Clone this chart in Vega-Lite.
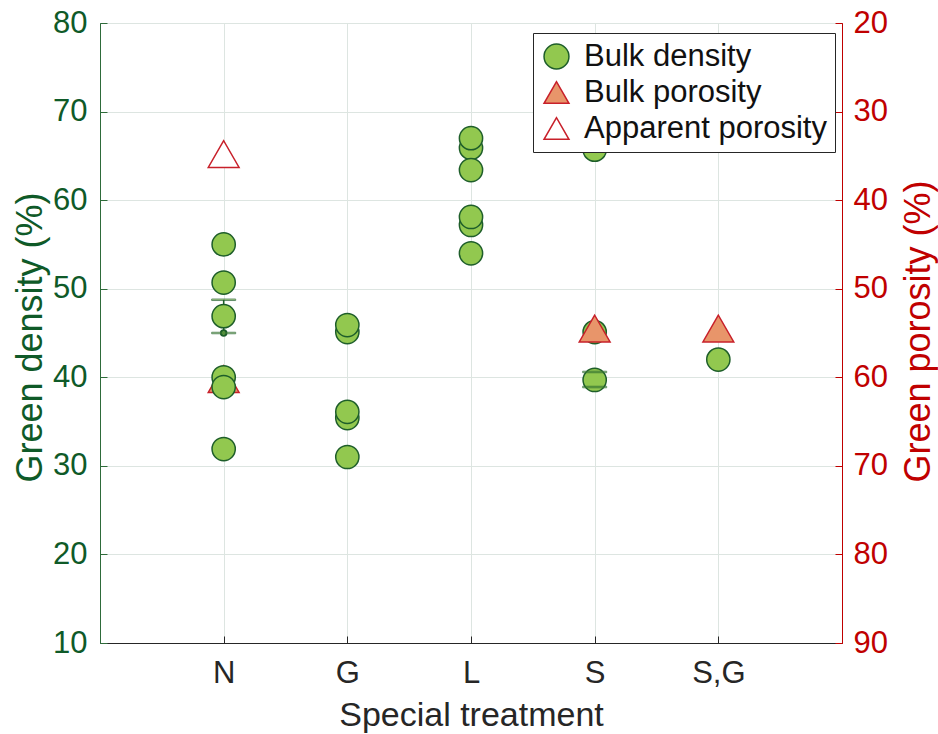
{
  "$schema": "https://vega.github.io/schema/vega-lite/v6.json",
  "autosize": {"type": "none"},
  "width": 742,
  "height": 620,
  "padding": {"left": 100, "top": 23, "right": 96, "bottom": 91},
  "background": "white",
  "config": {
    "font": "Liberation Sans",
    "view": {"stroke": "#262626", "strokeWidth": 1},
    "axis": {"gridColor": "#dde5e1", "gridWidth": 1, "labelFont": "Liberation Sans", "titleFont": "Liberation Sans", "titleFontWeight": "normal"},
    "legend": {
      "orient": "none", "legendX": 433, "legendY": 10, "title": null,
      "fillColor": "white", "strokeColor": "#262626", "padding": 8,
      "labelFont": "Liberation Sans", "labelFontSize": 31, "labelColor": "#111111", "labelLimit": 500,
      "symbolSize": 620, "symbolStrokeWidth": 1.5, "labelOffset": 12, "rowPadding": 4
    }
  },
  "data": {
    "values": [
      {"treatment": "N", "series": "Bulk density", "value": 55.0},
      {"treatment": "N", "series": "Bulk density", "value": 50.7},
      {"treatment": "N", "series": "Bulk density", "value": 46.9, "lo": 45.0, "hi": 48.75},
      {"treatment": "N", "series": "Bulk density", "value": 40.0},
      {"treatment": "N", "series": "Bulk density", "value": 38.9},
      {"treatment": "N", "series": "Bulk density", "value": 31.9},
      {"treatment": "G", "series": "Bulk density", "value": 45.1},
      {"treatment": "G", "series": "Bulk density", "value": 45.9},
      {"treatment": "G", "series": "Bulk density", "value": 35.4},
      {"treatment": "G", "series": "Bulk density", "value": 36.1},
      {"treatment": "G", "series": "Bulk density", "value": 31.0},
      {"treatment": "L", "series": "Bulk density", "value": 65.9},
      {"treatment": "L", "series": "Bulk density", "value": 67.0},
      {"treatment": "L", "series": "Bulk density", "value": 63.4},
      {"treatment": "L", "series": "Bulk density", "value": 57.2},
      {"treatment": "L", "series": "Bulk density", "value": 58.1},
      {"treatment": "L", "series": "Bulk density", "value": 54.0},
      {"treatment": "S", "series": "Bulk density", "value": 65.7},
      {"treatment": "S", "series": "Bulk density", "value": 45.1},
      {"treatment": "S", "series": "Bulk density", "value": 39.7, "lo": 38.9, "hi": 40.6},
      {"treatment": "S,G", "series": "Bulk density", "value": 42.0},
      {"treatment": "N", "series": "Bulk porosity", "value": 60.2},
      {"treatment": "N", "series": "Apparent porosity", "value": 34.8},
      {"treatment": "S", "series": "Bulk porosity", "value": 54.5},
      {"treatment": "S,G", "series": "Bulk porosity", "value": 54.5}
    ]
  },
  "encoding": {
    "x": {
      "field": "treatment", "type": "nominal",
      "sort": ["N", "G", "L", "S", "S,G"],
      "scale": {"type": "point", "padding": 1},
      "axis": {
        "title": "Special treatment", "titleFontSize": 34, "titleColor": "#262626",
        "titleX": 371, "titleY": 72, "titleBaseline": "middle", "titleAlign": "center", "titleAnchor": null,
        "labelFontSize": 31, "labelColor": "#262626", "labelAngle": 0, "labelPadding": 22,
        "domainColor": "#262626", "tickColor": "#262626", "tickSize": -7, "grid": true
      }
    },
    "shape": {"field": "series", "type": "nominal",
      "scale": {"domain": ["Bulk density", "Bulk porosity", "Apparent porosity"], "range": ["circle", "triangle-up", "triangle-up"]}},
    "fill": {"field": "series", "type": "nominal",
      "scale": {"domain": ["Bulk density", "Bulk porosity", "Apparent porosity"], "range": ["#92c84f", "#e8956a", "white"]}},
    "stroke": {"field": "series", "type": "nominal",
      "scale": {"domain": ["Bulk density", "Bulk porosity", "Apparent porosity"], "range": ["#1e5e2a", "#c8202a", "#c8202a"]}}
  },
  "layer": [
    {
      "transform": [{"filter": "datum.series === 'Bulk porosity' && datum.treatment === 'N'"}],
      "mark": {"type": "point", "filled": true, "opacity": 1, "size": 950, "strokeWidth": 1.5},
      "encoding": {
        "y": {"field": "value", "type": "quantitative", "scale": {"domain": [20, 90], "reverse": true, "nice": false, "zero": false}, "axis": null}
      }
    },
    {
      "encoding": {
        "y": {
          "field": "value", "type": "quantitative",
          "scale": {"domain": [10, 80], "nice": false, "zero": false},
          "axis": {
            "orient": "left", "title": "Green density (%)", "titleFontSize": 36, "titleColor": "#0f5a28",
            "titleX": -70, "titleY": 314, "titleBaseline": "middle", "titleAlign": "center", "titleAngle": 270, "titleAnchor": null,
            "labelFontSize": 31, "labelColor": "#0f5a28", "labelPadding": 20, "tickCount": 8,
            "domainColor": "#2e6b3a", "tickColor": "#2e6b3a", "tickSize": -7, "grid": true
          }
        }
      },
      "layer": [
        {
          "transform": [{"filter": "isValid(datum.lo) && datum.treatment === 'N'"}],
          "mark": {"type": "rule", "color": "#1e5e2a", "strokeWidth": 1.5},
          "encoding": {"y": {"field": "lo", "type": "quantitative"}, "y2": {"field": "hi"}}
        },
        {
          "transform": [{"filter": "isValid(datum.lo) && datum.treatment === 'N'"}],
          "mark": {"type": "tick", "color": "#1e5e2a", "size": 24, "thickness": 1.5},
          "encoding": {"y": {"field": "lo", "type": "quantitative"}}
        },
        {
          "transform": [{"filter": "isValid(datum.lo) && datum.treatment === 'N'"}],
          "mark": {"type": "tick", "color": "#1e5e2a", "size": 24, "thickness": 1.5},
          "encoding": {"y": {"field": "hi", "type": "quantitative"}}
        },
        {
          "transform": [{"filter": "datum.series === 'Bulk density'"}],
          "mark": {"type": "point", "filled": true, "opacity": 1, "size": 540, "strokeWidth": 1.5}
        },
        {
          "transform": [{"filter": "isValid(datum.lo) && datum.treatment === 'S'"}],
          "mark": {"type": "tick", "color": "#1e5e2a", "size": 24, "thickness": 1.5},
          "encoding": {"y": {"field": "lo", "type": "quantitative"}}
        },
        {
          "transform": [{"filter": "isValid(datum.lo) && datum.treatment === 'S'"}],
          "mark": {"type": "tick", "color": "#1e5e2a", "size": 24, "thickness": 1.5},
          "encoding": {"y": {"field": "hi", "type": "quantitative"}}
        }
      ]
    },
    {
      "transform": [{"filter": "datum.series !== 'Bulk density' && !(datum.series === 'Bulk porosity' && datum.treatment === 'N')"}],
      "mark": {"type": "point", "filled": true, "opacity": 1, "size": 950, "strokeWidth": 1.5},
      "encoding": {
        "y": {
          "field": "value", "type": "quantitative",
          "scale": {"domain": [20, 90], "reverse": true, "nice": false, "zero": false},
          "axis": {
            "orient": "right", "title": "Green porosity (%)", "titleFontSize": 36, "titleColor": "#c00000",
            "titleX": 76, "titleY": 308, "titleBaseline": "middle", "titleAlign": "center", "titleAngle": 270, "titleAnchor": null,
            "labelFontSize": 31, "labelColor": "#c00000", "labelPadding": 18, "tickCount": 8,
            "domainColor": "#c00000", "tickColor": "#c00000", "tickSize": -7, "grid": false
          }
        }
      }
    }
  ],
  "resolve": {"scale": {"y": "independent"}, "axis": {"y": "independent"}}
}
